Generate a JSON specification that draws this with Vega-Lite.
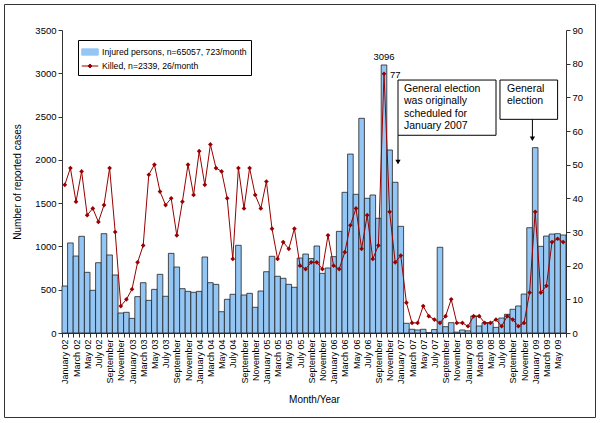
{
  "$schema": "https://vega.github.io/schema/vega-lite/v6.json",
  "width": 591,
  "height": 413,
  "autosize": "none",
  "padding": {"left": 4, "top": 4, "right": 5, "bottom": 6},
  "background": "#ffffff",
  "config": {
    "font": "Liberation Sans",
    "view": {"stroke": "#333333", "strokeWidth": 1},
    "axis": {
      "domainColor": "#333333", "tickColor": "#333333", "labelColor": "#000000", "titleColor": "#000000",
      "labelFont": "Liberation Sans", "titleFont": "Liberation Sans", "titleFontWeight": "normal",
      "labelFontSize": 9.5, "titleFontSize": 10, "grid": false, "tickSize": 4
    },
    "legend": {
      "orient": "none", "legendX": 74, "legendY": 36, "direction": "vertical",
      "strokeColor": "#000000", "fillColor": "#ffffff", "padding": 4,
      "labelFont": "Liberation Sans", "labelFontSize": 8.7, "labelColor": "#000000", "labelLimit": 400,
      "symbolSize": 225, "rowPadding": 0, "labelOffset": 4
    }
  },
  "data": {"values": [
    {"m":"2002-01","injured":543,"killed":44},{"m":"2002-02","injured":1040,"killed":49},{"m":"2002-03","injured":889,"killed":39},{"m":"2002-04","injured":1117,"killed":48},{"m":"2002-05","injured":701,"killed":35},{"m":"2002-06","injured":493,"killed":37},{"m":"2002-07","injured":812,"killed":33},{"m":"2002-08","injured":1147,"killed":38},{"m":"2002-09","injured":901,"killed":49},{"m":"2002-10","injured":670,"killed":30},{"m":"2002-11","injured":231,"killed":8},{"m":"2002-12","injured":239,"killed":10},
    {"m":"2003-01","injured":169,"killed":13},{"m":"2003-02","injured":420,"killed":21},{"m":"2003-03","injured":581,"killed":26},{"m":"2003-04","injured":377,"killed":47},{"m":"2003-05","injured":504,"killed":50},{"m":"2003-06","injured":678,"killed":42},{"m":"2003-07","injured":424,"killed":38},{"m":"2003-08","injured":920,"killed":40},{"m":"2003-09","injured":762,"killed":29},{"m":"2003-10","injured":512,"killed":39},{"m":"2003-11","injured":481,"killed":50},{"m":"2003-12","injured":470,"killed":41},
    {"m":"2004-01","injured":481,"killed":54},{"m":"2004-02","injured":878,"killed":44},{"m":"2004-03","injured":581,"killed":56},{"m":"2004-04","injured":562,"killed":49},{"m":"2004-05","injured":246,"killed":48},{"m":"2004-06","injured":389,"killed":40},{"m":"2004-07","injured":447,"killed":22},{"m":"2004-08","injured":1013,"killed":49},{"m":"2004-09","injured":439,"killed":37},{"m":"2004-10","injured":458,"killed":49},{"m":"2004-11","injured":297,"killed":41},{"m":"2004-12","injured":485,"killed":37},
    {"m":"2005-01","injured":708,"killed":45},{"m":"2005-02","injured":886,"killed":31},{"m":"2005-03","injured":655,"killed":22},{"m":"2005-04","injured":632,"killed":27},{"m":"2005-05","injured":562,"killed":25},{"m":"2005-06","injured":528,"killed":31},{"m":"2005-07","injured":866,"killed":20},{"m":"2005-08","injured":912,"killed":19},{"m":"2005-09","injured":860,"killed":21},{"m":"2005-10","injured":1005,"killed":21},{"m":"2005-11","injured":689,"killed":19},{"m":"2005-12","injured":751,"killed":29},
    {"m":"2006-01","injured":882,"killed":20},{"m":"2006-02","injured":1174,"killed":19},{"m":"2006-03","injured":1625,"killed":24},{"m":"2006-04","injured":2067,"killed":32},{"m":"2006-05","injured":1602,"killed":37},{"m":"2006-06","injured":2480,"killed":25},{"m":"2006-07","injured":1556,"killed":35},{"m":"2006-08","injured":1594,"killed":22},{"m":"2006-09","injured":1325,"killed":26},{"m":"2006-10","injured":3096,"killed":77},{"m":"2006-11","injured":2114,"killed":36},{"m":"2006-12","injured":1741,"killed":21},
    {"m":"2007-01","injured":1232,"killed":23},{"m":"2007-02","injured":112,"killed":9},{"m":"2007-03","injured":43,"killed":3},{"m":"2007-04","injured":35,"killed":3},{"m":"2007-05","injured":43,"killed":8},{"m":"2007-06","injured":5,"killed":5},{"m":"2007-07","injured":40,"killed":4},{"m":"2007-08","injured":990,"killed":3},{"m":"2007-09","injured":73,"killed":5},{"m":"2007-10","injured":119,"killed":10},{"m":"2007-11","injured":10,"killed":3},{"m":"2007-12","injured":35,"killed":3},
    {"m":"2008-01","injured":25,"killed":2},{"m":"2008-02","injured":196,"killed":5},{"m":"2008-03","injured":81,"killed":5},{"m":"2008-04","injured":119,"killed":3},{"m":"2008-05","injured":119,"killed":3},{"m":"2008-06","injured":65,"killed":4},{"m":"2008-07","injured":173,"killed":2},{"m":"2008-08","injured":216,"killed":5},{"m":"2008-09","injured":274,"killed":4},{"m":"2008-10","injured":312,"killed":2},{"m":"2008-11","injured":450,"killed":3},{"m":"2008-12","injured":1216,"killed":12},
    {"m":"2009-01","injured":2141,"killed":36},{"m":"2009-02","injured":1001,"killed":12},{"m":"2009-03","injured":1120,"killed":14},{"m":"2009-04","injured":1143,"killed":27},{"m":"2009-05","injured":1147,"killed":28},{"m":"2009-06","injured":1132,"killed":27}
  ]},
  "layer": [
    {
      "layer": [
        {
          "mark": {"type": "bar", "stroke": "#222222", "strokeWidth": 0.8, "fillOpacity": 1},
          "encoding": {
            "x": {
              "field": "m", "type": "ordinal",
              "scale": {"range": [58, 562], "paddingInner": 0, "paddingOuter": 0},
              "axis": {
                "title": "Month/Year", "orient": "bottom", "offset": -84, "tickBand": "extent",
                "labelAngle": 270, "labelOverlap": false, "labelPadding": 2, "titlePadding": 11, "labelFontSize": 9,
                "labelExpr": "!isString(datum.value) ? '' : (toNumber(substring(datum.value,5,7)) % 2 == 0 ? '' : (['January','','March','','May','','July','','September','','November'][toNumber(substring(datum.value,5,7))-1] + (toNumber(substring(datum.value,5,7)) >= 9 ? '' : ' ' + substring(datum.value,2,4))))"
              }
            },
            "y": {
              "field": "injured", "type": "quantitative",
              "scale": {"domain": [0, 3500], "range": [329, 26], "nice": false},
              "axis": {"title": "Number of reported cases", "format": "d", "values": [0,500,1000,1500,2000,2500,3000,3500], "offset": -58, "labelPadding": 2, "titlePadding": 12}
            },
            "color": {
              "datum": "Injured persons, n=65057, 723/month", "type": "nominal",
              "scale": {"domain": ["Injured persons, n=65057, 723/month", "Killed, n=2339, 26/month"], "range": ["#93c6f5", "#990000"]},
              "legend": {
                "title": null,
                "symbolType": {"expr": "indexof(datum.value,'Killed')===0 ? 'M-1.1,0H1.1M0,-0.27L0.27,0L0,0.27L-0.27,0Z' : 'M-1.1,-0.42H1.1V0.42H-1.1Z'"},
                "symbolStrokeColor": {"expr": "indexof(datum.value,'Killed')===0 ? '#990000' : '#222222'"},
                "symbolStrokeWidth": 1,
                "symbolOpacity": 1
              }
            }
          }
        },
        {
          "data": {"values": [{}]},
          "mark": {"type": "text", "fontSize": 9.5, "baseline": "bottom", "align": "center", "dy": -3, "color": "#000000"},
          "encoding": {
            "x": {"datum": "2006-10", "type": "ordinal"},
            "y": {"datum": 3096, "type": "quantitative"},
            "text": {"value": "3096"}
          }
        },
        {
          "data": {"values": [{}]},
          "mark": {"type": "rect", "fill": "#ffffff", "stroke": "#000000", "strokeWidth": 1},
          "encoding": {
            "x": {"datum": "2007-01", "type": "ordinal", "bandPosition": 0},
            "x2": {"datum": "2008-06"},
            "y": {"datum": 2922, "type": "quantitative"},
            "y2": {"datum": 2284}
          }
        },
        {
          "data": {"values": [{}]},
          "mark": {"type": "text", "fontSize": 10.5, "align": "left", "baseline": "top", "dx": 6, "dy": 4, "lineHeight": 12.3, "color": "#000000",
                   "text": ["General election", "was originally", "scheduled for", "January 2007"]},
          "encoding": {
            "x": {"datum": "2007-01", "type": "ordinal", "bandPosition": 0},
            "y": {"datum": 2922, "type": "quantitative"}
          }
        },
        {
          "data": {"values": [{}]},
          "mark": {"type": "rule", "color": "#000000", "strokeWidth": 1},
          "encoding": {
            "x": {"datum": "2007-01", "type": "ordinal", "bandPosition": 0},
            "y": {"datum": 2284, "type": "quantitative"},
            "y2": {"datum": 1960}
          }
        },
        {
          "data": {"values": [{}]},
          "mark": {"type": "point", "shape": "triangle-down", "filled": true, "color": "#000000", "size": 28, "opacity": 1},
          "encoding": {
            "x": {"datum": "2007-01", "type": "ordinal", "bandPosition": 0},
            "y": {"datum": 1975, "type": "quantitative"}
          }
        },
        {
          "data": {"values": [{}]},
          "mark": {"type": "rect", "fill": "#ffffff", "stroke": "#000000", "strokeWidth": 1},
          "encoding": {
            "x": {"datum": "2008-07", "type": "ordinal", "bandPosition": 0.21},
            "x2": {"datum": "2009-05"},
            "y": {"datum": 2922, "type": "quantitative"},
            "y2": {"datum": 2468}
          }
        },
        {
          "data": {"values": [{}]},
          "mark": {"type": "text", "fontSize": 10.5, "align": "left", "baseline": "top", "dx": 7, "dy": 4, "lineHeight": 12.3, "color": "#000000",
                   "text": ["General", "election"]},
          "encoding": {
            "x": {"datum": "2008-07", "type": "ordinal", "bandPosition": 0.21},
            "y": {"datum": 2922, "type": "quantitative"}
          }
        },
        {
          "data": {"values": [{}]},
          "mark": {"type": "rule", "color": "#000000", "strokeWidth": 1},
          "encoding": {
            "x": {"datum": "2009-01", "type": "ordinal", "bandPosition": 0},
            "y": {"datum": 2468, "type": "quantitative"},
            "y2": {"datum": 2230}
          }
        },
        {
          "data": {"values": [{}]},
          "mark": {"type": "point", "shape": "triangle-down", "filled": true, "color": "#000000", "size": 28, "opacity": 1},
          "encoding": {
            "x": {"datum": "2009-01", "type": "ordinal", "bandPosition": 0},
            "y": {"datum": 2243, "type": "quantitative"}
          }
        }
      ]
    },
    {
      "layer": [
        {
          "mark": {"type": "line", "strokeWidth": 1, "point": {"filled": true, "shape": "diamond", "size": 22}},
          "encoding": {
            "x": {"field": "m", "type": "ordinal"},
            "y": {
              "field": "killed", "type": "quantitative",
              "scale": {"domain": [0, 90], "range": [329, 26], "nice": false},
              "axis": {"orient": "right", "title": null, "values": [0,10,20,30,40,50,60,70,80,90], "offset": -29, "labelPadding": 2}
            },
            "color": {
              "datum": "Killed, n=2339, 26/month", "type": "nominal",
              "legend": {
                "title": null,
                "symbolType": {"expr": "indexof(datum.value,'Killed')===0 ? 'M-1.1,0H1.1M0,-0.27L0.27,0L0,0.27L-0.27,0Z' : 'M-1.1,-0.42H1.1V0.42H-1.1Z'"},
                "symbolStrokeColor": {"expr": "indexof(datum.value,'Killed')===0 ? '#990000' : '#222222'"},
                "symbolStrokeWidth": 1,
                "symbolOpacity": 1
              }
            }
          }
        },
        {
          "data": {"values": [{}]},
          "mark": {"type": "text", "fontSize": 9.5, "align": "left", "baseline": "middle", "dx": 6, "dy": 1, "color": "#000000"},
          "encoding": {
            "x": {"datum": "2006-10", "type": "ordinal"},
            "y": {"datum": 77, "type": "quantitative"},
            "text": {"value": "77"}
          }
        }
      ]
    }
  ],
  "resolve": {"scale": {"y": "independent"}}
}
